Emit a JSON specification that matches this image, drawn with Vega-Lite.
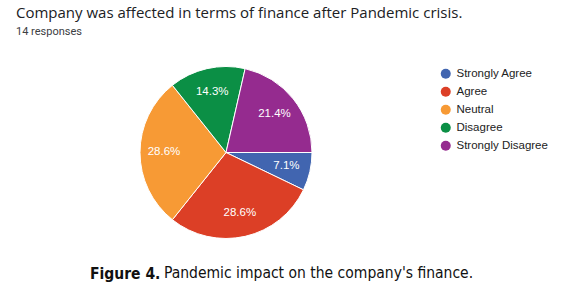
{
  "$schema": "https://vega.github.io/schema/vega-lite/v6.json",
  "padding": {"top": 6, "left": 0, "right": 0, "bottom": 0},
  "background": "white",
  "config": {"view": {"stroke": null}, "concat": {"spacing": 0}},
  "title": {
    "text": "Company was affected in terms of finance after Pandemic crisis.",
    "subtitle": "14 responses",
    "anchor": "start",
    "dx": 16,
    "font": "Open Sans",
    "fontSize": 15,
    "fontWeight": "normal",
    "color": "#202124",
    "subtitleFont": "Roboto",
    "subtitleFontSize": 11,
    "subtitleColor": "#3c4043",
    "subtitlePadding": 5,
    "offset": 15
  },
  "vconcat": [
    {
      "title": {
        "text": "Pandemic impact on the company's finance.",
        "orient": "bottom",
        "anchor": "start",
        "dx": 164,
        "dy": -21,
        "font": "DejaVu Sans Condensed",
        "fontSize": 15.5,
        "fontWeight": "normal",
        "color": "#111111"
      },
      "vconcat": [
        {
          "width": 452,
          "height": 201,
          "title": {
            "text": "Figure 4.",
            "orient": "bottom",
            "anchor": "start",
            "dx": 90,
            "offset": 14,
            "font": "DejaVu Sans Condensed",
            "fontSize": 15.5,
            "fontWeight": "bold",
            "color": "#111111"
          },
          "data": {
            "values": [
              {"response": "Strongly Agree", "count": 1, "pct": "7.1%", "rank": 1},
              {"response": "Agree", "count": 4, "pct": "28.6%", "rank": 2},
              {"response": "Neutral", "count": 4, "pct": "28.6%", "rank": 3},
              {"response": "Disagree", "count": 2, "pct": "14.3%", "rank": 4},
              {"response": "Strongly Disagree", "count": 3, "pct": "21.4%", "rank": 5}
            ]
          },
          "encoding": {
            "theta": {"field": "count", "type": "quantitative", "stack": true, "scale": {"range": [1.5708, 7.854]}},
            "order": {"field": "rank", "type": "quantitative"},
            "color": {
              "field": "response",
              "type": "nominal",
              "sort": ["Strongly Agree", "Agree", "Neutral", "Disagree", "Strongly Disagree"],
              "scale": {
                "domain": ["Strongly Agree", "Agree", "Neutral", "Disagree", "Strongly Disagree"],
                "range": ["#4165b0", "#dc3f26", "#f79a35", "#0b8f45", "#952b8f"]
              },
              "legend": {
                "title": null,
                "orient": "none",
                "legendX": 440,
                "legendY": 16,
                "symbolType": "circle",
                "symbolSize": 100,
                "symbolStrokeWidth": 0,
                "labelFont": "Liberation Sans",
                "labelFontSize": 11.5,
                "labelColor": "#222222",
                "labelOffset": 5,
                "rowPadding": 5
              }
            }
          },
          "layer": [
            {"mark": {"type": "arc", "outerRadius": 86, "stroke": "white", "strokeWidth": 1}},
            {
              "mark": {"type": "text", "radius": 62, "fill": "white", "font": "Liberation Sans", "fontSize": 11.5},
              "encoding": {"text": {"field": "pct"}, "color": {"value": "white"}}
            }
          ]
        }
      ]
    }
  ]
}
